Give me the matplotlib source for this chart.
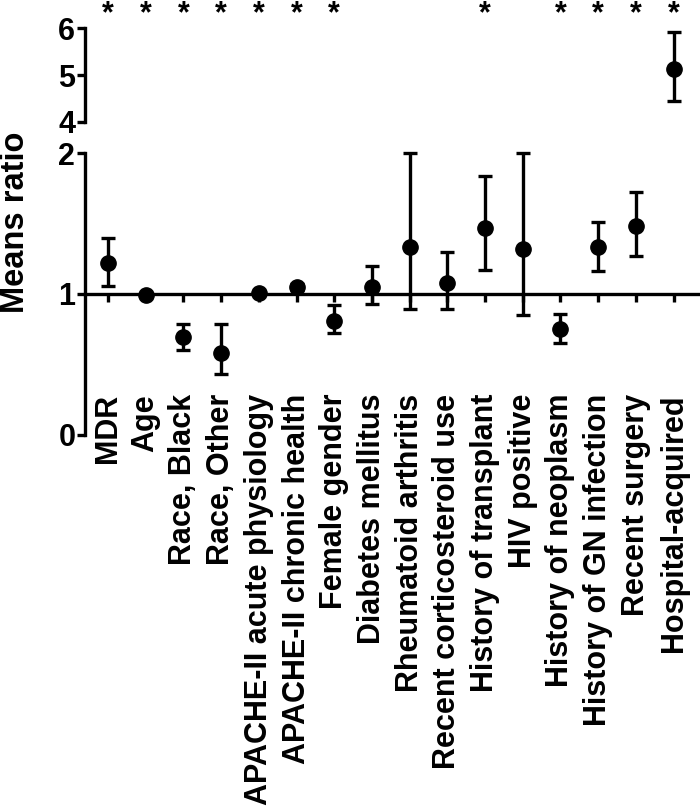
import matplotlib
matplotlib.use("Agg")
import matplotlib.pyplot as plt
import numpy as np

plt.rcParams['font.family'] = ['Liberation Sans', 'DejaVu Sans']
plt.rcParams['font.weight'] = 'bold'

# Data
labels = ["MDR", "Age", "Race, Black", "Race, Other", "APACHE-II acute physiology",
          "APACHE-II chronic health", "Female gender", "Diabetes mellitus",
          "Rheumatoid arthritis", "Recent corticosteroid use", "History of transplant",
          "HIV positive", "History of neoplasm", "History of GN infection",
          "Recent surgery", "Hospital-acquired"]
means = [1.22, 0.99, 0.695, 0.58, 1.01, 1.05, 0.81, 1.05, 1.33, 1.08, 1.47, 1.32, 0.75, 1.33, 1.48, 5.13]
lower = [1.06, 0.98, 0.60, 0.43, 1.00, 1.03, 0.72, 0.93, 0.89, 0.89, 1.17, 0.85, 0.65, 1.16, 1.27, 4.45]
upper = [1.40, 1.00, 0.79, 0.79, 1.02, 1.07, 0.92, 1.20, 2.00, 1.30, 1.84, 2.00, 0.86, 1.51, 1.72, 5.91]
significant = [True, True, True, True, True, True, True, False, False, False, True,
               False, True, True, True, True]

x = np.arange(len(labels))
means = np.array(means)
err = np.array([means - np.array(lower), np.array(upper) - means])
high = means > 3

fig = plt.figure(figsize=(7, 8.1), dpi=100)
ax_top = fig.add_axes([0.1214, 0.8494, 0.8786, 0.1160])
ax_bot = fig.add_axes([0.1214, 0.4630, 0.8786, 0.3481])

style = dict(fmt='o', color='black', ms=11, elinewidth=2.4, capsize=5, capthick=2.4, clip_on=False)
ax_bot.errorbar(x[~high], means[~high], yerr=err[:, ~high], **style)
ax_top.errorbar(x[high], means[high], yerr=err[:, high], **style)

for ax in (ax_top, ax_bot):
    ax.set_xlim(-0.61, 15.70)
    ax.spines['top'].set_visible(False)
    ax.spines['right'].set_visible(False)
    ax.spines['left'].set_linewidth(2.4)
    ax.tick_params(axis='y', length=6, width=2.4, labelsize=22, pad=1)
    ax.patch.set_visible(False)

ax_top.set_ylim(4, 6)
ax_top.set_yticks([4, 5, 6])
ax_top.spines['bottom'].set_visible(False)
ax_top.set_xticks([])

ax_bot.set_ylim(0, 2)
ax_bot.set_yticks([0, 1, 2])
ax_bot.spines['bottom'].set_position(('data', 1))
ax_bot.spines['bottom'].set_linewidth(2.4)
ax_bot.set_xticks(x)
ax_bot.set_xticklabels(labels, rotation=90, fontsize=22, fontweight='bold')
ax_bot.tick_params(axis='x', length=6, width=2.4, pad=66)

for xi, s in zip(x, significant):
    if s:
        ax_top.text(xi, 6.3, '*', ha='center', va='center', fontsize=22,
                    fontweight='bold', clip_on=False)

fig.text(0.022, 0.726, 'Means ratio', rotation=90, ha='center', va='center',
         fontsize=23.5, fontweight='bold')

fig.savefig('out.png', dpi=100)
